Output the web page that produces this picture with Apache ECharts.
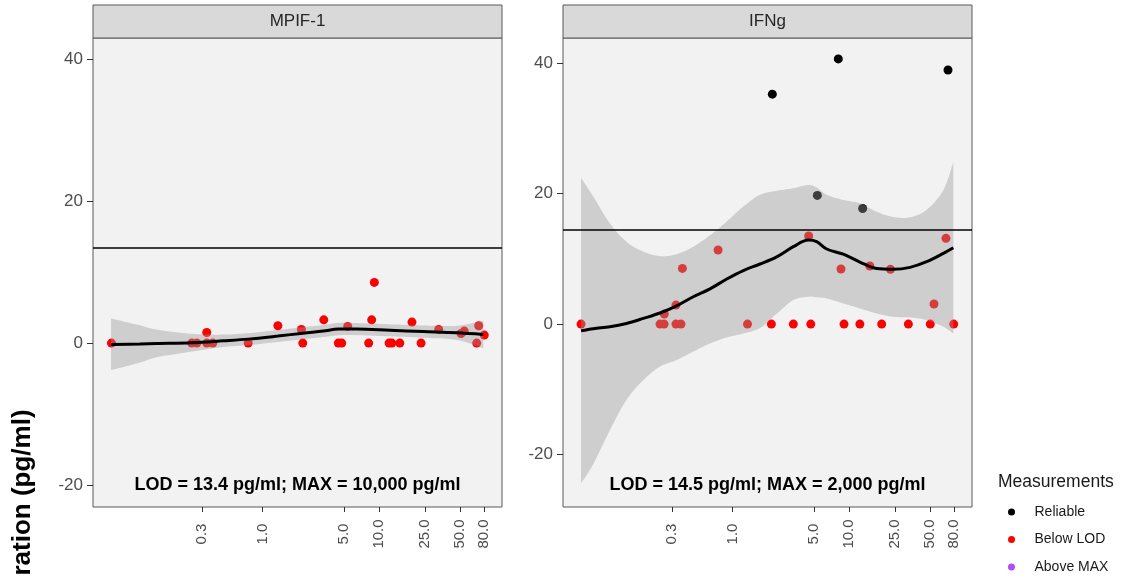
<!DOCTYPE html>
<html><head><meta charset="utf-8">
<script src="https://cdn.jsdelivr.net/npm/echarts@6/dist/echarts.min.js"></script>
<style>html,body{margin:0;padding:0;background:#fff}#c{width:1125px;height:581px}</style>
</head><body><div id="c"></div>
<script>
// ---------- data ----------
const panelNames = ['MPIF-1', 'IFNg'];
const annotations = ['LOD = 13.4 pg/ml; MAX = 10,000 pg/ml', 'LOD = 14.5 pg/ml; MAX = 2,000 pg/ml'];
const lodValues = [13.4, 14.5];
const xTickValues = [0.3, 1, 5, 10, 25, 50, 80];
const yTickValues = [-20, 0, 20, 40];
const legendNames = ['Reliable', 'Below LOD', 'Above MAX'];
const yAxisTitle = 'ration (pg/ml)';

// MPIF-1: measurements below LOD
const mpifBelowX = [0.05, 0.245, 0.271, 0.33, 0.33, 0.372, 0.75, 1.35, 2.15, 2.21, 3.35, 4.47, 4.78, 5.38, 8.15, 8.65, 9.12, 12.2, 12.9, 15.1, 19.2, 23.0, 32.6, 50.7, 54.1, 72.0, 69.2, 80.4];
const mpifBelowY = [0, 0, 0, 1.5, 0, 0, 0, 2.44, 1.93, 0, 3.28, 0, 0, 2.35, 0, 3.28, 8.55, 0, 0, 0, 2.96, 0, 1.93, 1.36, 1.69, 2.44, 0, 1.13];

// MPIF-1 smooth fit and confidence band
const mpifFitX = [0.0496, 0.088, 0.122, 0.245, 0.458, 0.75, 1.35, 2.23, 3.32, 4.47, 6.43, 12.4, 24.1, 46.6, 78.9];
const mpifFitY = [-0.18, -0.12, -0.06, 0.05, 0.32, 0.56, 0.99, 1.4, 1.69, 1.97, 1.97, 1.8, 1.62, 1.45, 1.22];
const mpifUpper = [3.47, 2.5, 1.9, 1.3, 1.2, 1.4, 1.85, 2.25, 2.55, 2.85, 2.82, 2.65, 2.48, 2.45, 3.14];
const mpifLower = [-3.8, -2.75, -2.0, -1.2, -0.55, -0.28, 0.15, 0.55, 0.85, 1.1, 1.12, 0.95, 0.76, 0.45, -0.72];

// IFNg: measurements below LOD
const ifngBelowX = [0.0496, 0.237, 0.257, 0.258, 0.325, 0.325, 0.359, 0.369, 0.748, 1.34, 2.15, 3.32, 4.5, 4.69, 8.53, 9.06, 12.4, 15.1, 19.1, 22.7, 32.4, 50.0, 53.8, 68.2, 79.5];
const ifngBelowY = [0, 0, 0, 1.53, 2.91, 0, 0, 8.53, 11.34, 0, 0, 0, 13.49, 0, 8.43, 0, 0, 8.9, 0, 8.38, 0, 0, 3.07, 13.13, 0];
// IFNg: reliable measurements
const ifngReliableX = [2.19, 5.34, 8.09, 13.1, 71.0];
const ifngReliableY = [35.2, 19.7, 40.6, 17.7, 38.9];

// IFNg smooth fit and confidence band
const ifngFitX = [0.0496, 0.0633, 0.088, 0.122, 0.170, 0.237, 0.329, 0.458, 0.638, 0.888, 1.234, 1.717, 2.39, 3.32, 4.47, 5.27, 6.43, 8.93, 12.4, 17.3, 24.1, 33.5, 46.6, 64.7, 78.9];
const ifngFitY = [-1.02, -0.7, -0.41, 0.1, 0.87, 1.7, 2.8, 4.19, 5.4, 6.9, 8.2, 9.2, 10.3, 11.85, 12.87, 12.62, 11.5, 10.7, 9.5, 8.5, 8.38, 8.69, 9.55, 10.83, 11.7];
const ifngUpper = [22.4, 19.5, 15.4, 12.6, 11.1, 10.4, 10.7, 11.85, 13.6, 15.7, 18.0, 19.8, 20.4, 20.8, 21.3, 20.9, 19.8, 19.0, 18.5, 17.2, 16.4, 16.35, 17.5, 20.5, 24.8];
const ifngLower = [-24.4, -21.4, -16.2, -11.6, -8.6, -6.5, -5.5, -4.2, -2.97, -2.04, -1.43, -0.6, 1.6, 3.68, 4.19, 4.1, 3.93, 3.17, 2.4, 1.63, 1.12, 1.02, 0.61, -0.41, -1.43];

// ---------- layout / style ----------
const FONT = "'Liberation Sans', Arial, Helvetica, sans-serif";
const grids = [
  {left: 93, top: 38, width: 409, height: 469},
  {left: 563, top: 38, width: 409, height: 469}
];
const xRange = [0.0347, 114.2];
const yRanges = [[-23.1, 43], [-28.0, 43.8]];
const RED = '#ff0000', BLACK = '#000000', PURPLE = '#a020f0';
const BAND = 'rgba(153,153,153,0.4)';

function pairs(xs, ys) { return xs.map((x, i) => [x, ys[i]]); }

function catmull(pts) {
  const out = [];
  const n = pts.length;
  for (let i = 0; i < n - 1; i++) {
    const p0 = pts[Math.max(i - 1, 0)], p1 = pts[i], p2 = pts[i + 1], p3 = pts[Math.min(i + 2, n - 1)];
    for (let s = 0; s < 12; s++) {
      const t = s / 12, t2 = t * t, t3 = t2 * t;
      const f = k => 0.5 * (2 * p1[k] + (-p0[k] + p2[k]) * t + (2 * p0[k] - 5 * p1[k] + 4 * p2[k] - p3[k]) * t2 + (-p0[k] + 3 * p1[k] - 3 * p2[k] + p3[k]) * t3);
      out.push([f(0), f(1)]);
    }
  }
  out.push(pts[n - 1]);
  return out;
}

function bandSeries(g, xs, lo, hi) {
  return {
    type: 'custom', xAxisIndex: g, yAxisIndex: g, silent: true, z: 3,
    data: xs.map((x, i) => [x, lo[i], hi[i]]),
    encode: {x: 0, y: [1, 2]},
    renderItem: function (params, api) {
      if (params.dataIndex !== 0) return null;
      const up = xs.map((x, i) => api.coord([x, hi[i]]));
      const dn = xs.map((x, i) => api.coord([x, lo[i]])).reverse();
      const pts = catmull(up).concat(catmull(dn));
      return {type: 'polygon', shape: {points: pts}, style: {fill: BAND}, silent: true};
    }
  };
}

function scatter(name, g, xs, ys, color) {
  return {
    name: name, type: 'scatter', xAxisIndex: g, yAxisIndex: g, z: 2,
    symbol: 'circle', symbolSize: 9, itemStyle: {color: color, opacity: 1},
    data: pairs(xs, ys), silent: true
  };
}

function fitLine(g, xs, ys, lod) {
  return {
    type: 'line', xAxisIndex: g, yAxisIndex: g, z: 4, smooth: 0.35,
    showSymbol: false, symbol: 'none', silent: true,
    lineStyle: {color: '#000', width: 3},
    data: pairs(xs, ys),
    markLine: {
      silent: true, symbol: ['none', 'none'], animation: false,
      label: {show: false},
      lineStyle: {color: '#000', width: 1.5, type: 'solid'},
      data: [{yAxis: lod}]
    }
  };
}

const xAxes = [0, 1].map(g => ({
  type: 'log', logBase: 10, gridIndex: g, min: xRange[0], max: xRange[1],
  position: 'bottom',
  axisLine: {show: false, onZero: false},
  axisTick: {show: true, length: 5, lineStyle: {color: '#333', width: 1}, customValues: xTickValues},
  minorTick: {show: false},
  splitLine: {show: false},
  axisLabel: {
    customValues: xTickValues, rotate: 90, align: 'center', verticalAlign: 'middle', margin: 27,
    formatter: v => Number(v).toFixed(1), color: '#4d4d4d', fontSize: 15, fontFamily: FONT
  }
}));

const yAxes = [0, 1].map(g => ({
  type: 'value', gridIndex: g, min: yRanges[g][0], max: yRanges[g][1],
  position: 'left',
  axisLine: {show: false, onZero: false},
  axisTick: {show: true, length: 6, lineStyle: {color: '#333', width: 1}, customValues: yTickValues},
  splitLine: {show: false},
  axisLabel: {customValues: yTickValues, color: '#4d4d4d', fontSize: 17, fontFamily: FONT, margin: 10}
}));

const graphics = [];
grids.forEach((gr, g) => {
  graphics.push({
    type: 'rect', shape: {x: gr.left, y: 5, width: gr.width, height: gr.top - 5},
    style: {fill: '#d9d9d9', stroke: '#595959', lineWidth: 1}, silent: true
  });
  graphics.push({
    type: 'text', x: gr.left + gr.width / 2, y: 21.5, silent: true,
    style: {text: panelNames[g], font: '17px ' + FONT, fill: '#262626', align: 'center', verticalAlign: 'middle'}
  });
  graphics.push({
    type: 'text', x: gr.left + gr.width / 2, y: 485, silent: true, z: 10,
    style: {text: annotations[g], font: 'bold 18px ' + FONT, fill: '#000', align: 'center', verticalAlign: 'middle'}
  });
});
graphics.push({
  type: 'text', x: 998, y: 482, silent: true,
  style: {text: 'Measurements', font: '17.5px ' + FONT, fill: '#1a1a1a', align: 'left', verticalAlign: 'middle'}
});
graphics.push({
  type: 'text', x: 23, y: 492.5, rotation: Math.PI / 2, silent: true,
  style: {text: yAxisTitle, font: 'bold 26px ' + FONT, fill: '#000', align: 'center', verticalAlign: 'middle'}
});

const option = {
  animation: false,
  backgroundColor: '#ffffff',
  textStyle: {fontFamily: FONT},
  grid: grids.map(gr => Object.assign({show: true, backgroundColor: '#f2f2f2', borderColor: '#595959', borderWidth: 1, containLabel: false}, gr)),
  xAxis: xAxes,
  yAxis: yAxes,
  legend: {
    data: legendNames, orient: 'vertical', left: 1008, top: 505, icon: 'circle', padding: 0,
    itemWidth: 36, itemHeight: 7, itemGap: 13.5, selectedMode: false,
    textStyle: {fontSize: 14, color: '#1a1a1a', fontFamily: FONT, lineHeight: 14}
  },
  graphic: graphics,
  series: [
    scatter('Below LOD', 0, mpifBelowX, mpifBelowY, RED),
    bandSeries(0, mpifFitX, mpifLower, mpifUpper),
    fitLine(0, mpifFitX, mpifFitY, lodValues[0]),
    scatter('Below LOD', 1, ifngBelowX, ifngBelowY, RED),
    scatter('Reliable', 1, ifngReliableX, ifngReliableY, BLACK),
    {name: 'Above MAX', type: 'scatter', xAxisIndex: 1, yAxisIndex: 1, symbolSize: 9, itemStyle: {color: PURPLE}, data: []},
    bandSeries(1, ifngFitX, ifngLower, ifngUpper),
    fitLine(1, ifngFitX, ifngFitY, lodValues[1])
  ]
};

const chart = echarts.init(document.getElementById('c'), null, {renderer: 'canvas'});
chart.setOption(option);
</script>
</body></html>
